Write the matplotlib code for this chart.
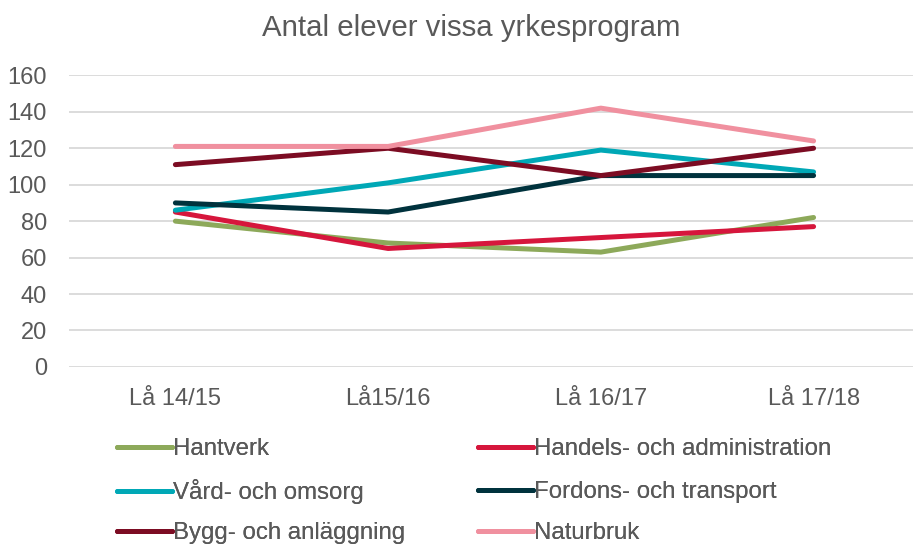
import matplotlib.pyplot as plt

plt.rcParams['font.family'] = ['Liberation Sans', 'DejaVu Sans']

# Data
years = ['Lå 14/15', 'Lå15/16', 'Lå 16/17', 'Lå 17/18']
hantverk = [80, 68, 63, 82]
handels = [85, 65, 71, 77]
vard = [86, 101, 119, 107]
fordons = [90, 85, 105, 105]
bygg = [111, 120, 105, 120]
naturbruk = [121, 121, 142, 124]

series = [
    ('Hantverk', hantverk, '#8DA95A'),
    ('Handels- och administration', handels, '#D6163C'),
    ('Vård- och omsorg', vard, '#00A8B6'),
    ('Fordons- och transport', fordons, '#00323D'),
    ('Bygg- och anläggning', bygg, '#7C0C23'),
    ('Naturbruk', naturbruk, '#F0909F'),
]

W, H = 913, 544
fig = plt.figure(figsize=(W / 100, H / 100), dpi=100)
ax = fig.add_axes([0.0756, 0.3255, 0.932, 0.536])

x = range(len(years))
lines = []
for name, vals, color in series:
    ln, = ax.plot(x, vals, color=color, linewidth=3.6, solid_capstyle='round', label=name)
    lines.append(ln)

ax.set_xlim(-0.5, len(years) - 0.5)
ax.set_ylim(0, 160)
ax.set_yticks(range(0, 161, 20))
ax.set_xticks(list(x))
ax.set_xticklabels(years)
ax.grid(axis='y', color='#D9D9D9', linewidth=1.3)
ax.set_axisbelow(True)
for s in ax.spines.values():
    s.set_visible(False)
ax.tick_params(axis='both', length=0, labelsize=17, colors='#595959')
ax.tick_params(axis='y', pad=16)
ax.tick_params(axis='x', pad=15)

fig.text(471 / W, 1 - 28 / H, 'Antal elever vissa yrkesprogram', fontsize=21.2,
         color='#595959', ha='center', va='center')

# legend: one small legend per entry so rows line up, read row-wise
col_x = [117, 478]
row_y = [449, 492, 533]
for i, ln in enumerate(lines):
    r, c = divmod(i, 2)
    leg = fig.legend([ln], [ln.get_label()], loc='center left',
                     bbox_to_anchor=(col_x[c] / W, 1 - row_y[r] / H),
                     frameon=False, fontsize=17.3, handlelength=2.3,
                     handletextpad=0.05, labelcolor='#595959',
                     borderaxespad=0, borderpad=0)
    fig.add_artist(leg)

plt.savefig('out.png', dpi=100)
